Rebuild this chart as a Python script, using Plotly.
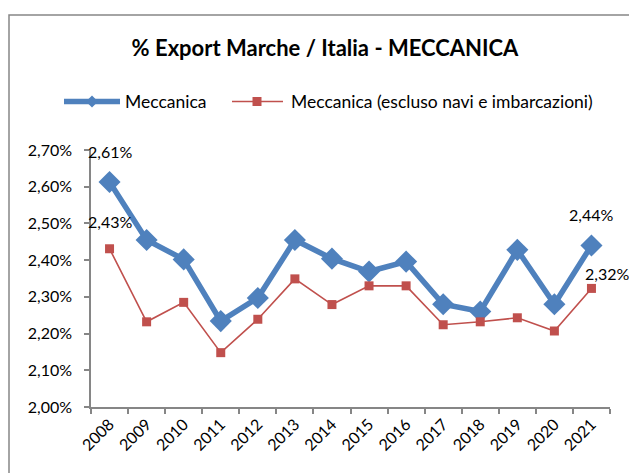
import plotly.graph_objects as go

years = ["2008", "2009", "2010", "2011", "2012", "2013", "2014",
         "2015", "2016", "2017", "2018", "2019", "2020", "2021"]
meccanica = [2.613, 2.455, 2.402, 2.234, 2.297, 2.455, 2.404,
             2.369, 2.396, 2.280, 2.260, 2.428, 2.280, 2.440]
meccanica_escl = [2.431, 2.232, 2.285, 2.148, 2.239, 2.349, 2.279,
                  2.330, 2.330, 2.224, 2.232, 2.243, 2.207, 2.323]
y_ticks = [2.00, 2.10, 2.20, 2.30, 2.40, 2.50, 2.60, 2.70]

BLUE = "#4F81BD"
RED = "#C0504D"
AXIS = "#868686"
FONT = "Lato"

W, H = 629, 473
L, R, T, B = 91, 610, 150, 407


def px(x):
    return (x - L) / (R - L)


def py(y):
    return (B - y) / (B - T)


fig = go.Figure()
fig.add_trace(go.Scatter(
    x=years, y=meccanica, mode="lines+markers", name="Meccanica",
    line=dict(color=BLUE, width=5.5),
    marker=dict(symbol="diamond", size=17, color=BLUE),
    showlegend=False, cliponaxis=False))
fig.add_trace(go.Scatter(
    x=years, y=meccanica_escl, mode="lines+markers",
    name="Meccanica (escluso navi e imbarcazioni)",
    line=dict(color=RED, width=1.6),
    marker=dict(symbol="square", size=9, color=RED),
    showlegend=False, cliponaxis=False))


def fmt(v):
    return f"{v:.2f}".replace(".", ",") + "%"


last = len(years) - 1
labels = [
    (0, meccanica[0], 0, 30),
    (0, meccanica_escl[0], 0, 27),
    (last, meccanica[last], 0, 31),
    (last, meccanica_escl[last], 16, 15),
]
for xi, y, xs, ys in labels:
    fig.add_annotation(x=xi, y=y, xref="x", yref="y", text=fmt(y),
                       showarrow=False, xshift=xs, yshift=ys,
                       font=dict(family=FONT, size=16, color="#000000"))

# outer chart border (cut off at right and bottom like the reference)
fig.add_shape(type="rect", xref="paper", yref="paper",
              x0=px(9), x1=px(640), y0=py(490), y1=py(15),
              line=dict(color=AXIS, width=1.5), layer="below")

# manual legend
ly = py(101.5)
fig.add_shape(type="line", xref="paper", yref="paper",
              x0=px(64), x1=px(120), y0=ly, y1=ly,
              line=dict(color=BLUE, width=5.5))
fig.add_shape(type="path", xref="paper", yref="paper",
              path=(f"M {px(92)} {py(95.5)} L {px(98)} {py(101.5)} "
                    f"L {px(92)} {py(107.5)} L {px(86)} {py(101.5)} Z"),
              fillcolor=BLUE, line=dict(color=BLUE, width=0))
fig.add_annotation(xref="paper", yref="paper", x=px(123), y=ly,
                   xanchor="left", yanchor="middle", showarrow=False,
                   text="Meccanica",
                   font=dict(family=FONT, size=17.5, color="#000000"))
fig.add_shape(type="line", xref="paper", yref="paper",
              x0=px(232), x1=px(283), y0=ly, y1=ly,
              line=dict(color=RED, width=1.6))
fig.add_shape(type="rect", xref="paper", yref="paper",
              x0=px(252.5), x1=px(261.5), y0=py(106), y1=py(97),
              fillcolor=RED, line=dict(color=RED, width=0))
fig.add_annotation(xref="paper", yref="paper", x=px(289), y=ly,
                   xanchor="left", yanchor="middle", showarrow=False,
                   text="Meccanica (escluso navi e imbarcazioni)",
                   font=dict(family=FONT, size=17.5, color="#000000"))

fig.update_layout(
    width=W, height=H,
    margin=dict(l=L, r=W - R, t=T, b=H - B, pad=0),
    paper_bgcolor="white", plot_bgcolor="white",
    separators=",.",
    font=dict(family=FONT, size=16, color="#000000"),
    title=dict(text="<b>% Export Marche / Italia - MECCANICA</b>",
               x=325 / W, xanchor="center", y=1 - 48 / H, yanchor="middle",
               xref="container", yref="container",
               font=dict(family=FONT, size=22, color="#000000")),
    showlegend=False,
)
fig.update_xaxes(
    type="category", range=[-0.5, last + 0.5], autorange=False,
    tickangle=-45, tickson="boundaries",
    showline=True, linecolor=AXIS, linewidth=1.5,
    ticks="outside", ticklen=5, tickcolor=AXIS, tickwidth=1.5,
    showgrid=False, zeroline=False,
    tickfont=dict(family=FONT, size=16, color="#000000"),
)
fig.update_yaxes(
    range=[2.0, 2.7], tickvals=y_ticks,
    ticktext=[fmt(v) for v in y_ticks],
    showline=True, linecolor=AXIS, linewidth=1.5,
    ticks="outside", ticklen=5, tickcolor=AXIS, tickwidth=1.5,
    ticklabelstandoff=9,
    showgrid=False, zeroline=False,
    tickfont=dict(family=FONT, size=16, color="#000000"),
)

fig.write_html(
    "out.html",
    config={"displayModeBar": False},
    post_script=("document.body.style.margin='0';"
                 "document.body.style.overflow='hidden';"),
)
